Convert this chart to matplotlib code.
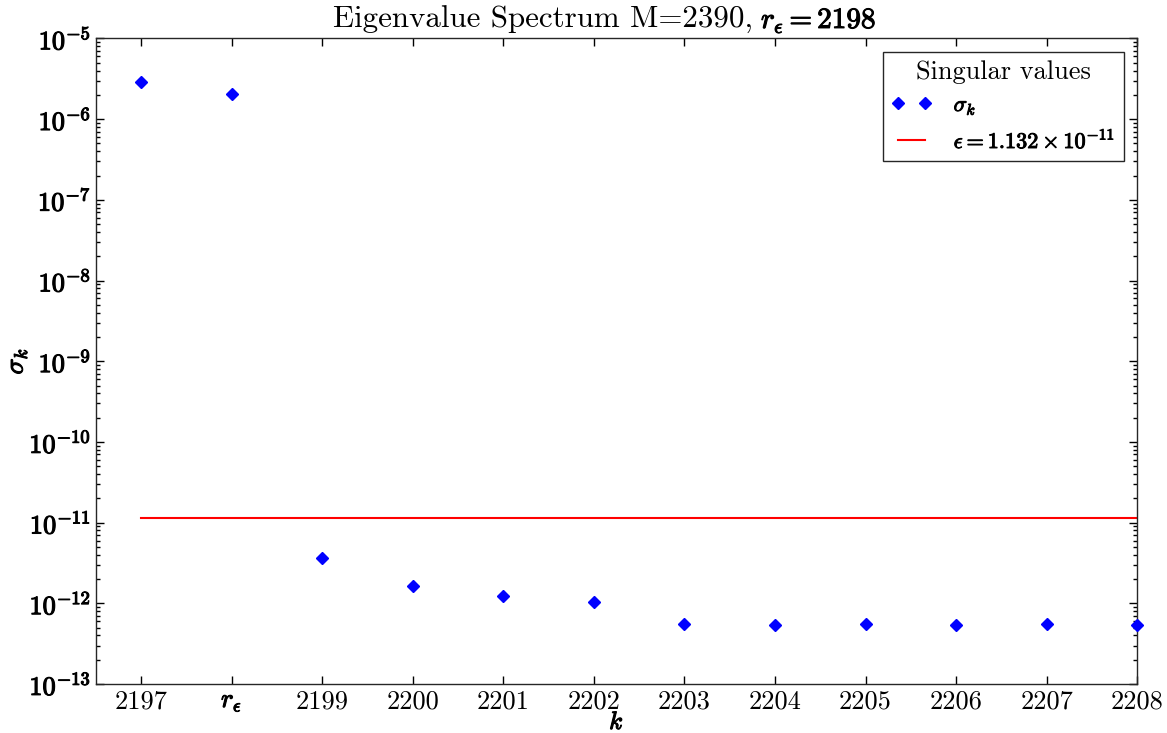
import matplotlib
matplotlib.use("Agg")
import matplotlib.pyplot as plt
import matplotlib.patheffects as pe
import numpy as np

k = [2197, 2198, 2199, 2200, 2201, 2202, 2203, 2204, 2205, 2206, 2207, 2208]
sigma = [2.86e-6, 2.06e-6, 3.65e-12, 1.66e-12, 1.23e-12, 1.05e-12,
         5.58e-13, 5.33e-13, 5.58e-13, 5.33e-13, 5.58e-13, 5.33e-13]
eps = 1.132e-11
xtick_labels = ['2197', r'$r_\epsilon$', '2199', '2200', '2201', '2202',
                '2203', '2204', '2205', '2206', '2207', '2208']
ytick_exps = list(range(-13, -4))

plt.rcParams['font.family'] = ['cmr10', 'DejaVu Serif']
plt.rcParams['mathtext.fontset'] = 'cm'
plt.rcParams['axes.formatter.use_mathtext'] = True


def bold(t, lw=0.7):
    t.set_path_effects([pe.withStroke(linewidth=lw, foreground=t.get_color())])
    return t


fig = plt.figure(figsize=(11.67, 7.33), dpi=100)
ax = fig.add_axes([0.082, 0.0668, 0.8925, 0.8807])

ax.semilogy(k, sigma, 'D', color='blue', markeredgecolor='blue', markersize=6,
            label=r'$\sigma_k$', clip_on=False, zorder=3)
ax.plot([k[0], k[-1]], [eps, eps], '-', color='red', lw=1.5,
        label=r'$\epsilon = 1.132 \times 10^{-11}$')

ax.set_xlim(2196.5, 2208)
ax.set_ylim(1e-13, 1e-5)
ax.set_xticks(k)
xl = ax.set_xticklabels(xtick_labels, fontsize=19)
bold(xl[1], 0.8)
ax.set_yticks([10.0**e for e in ytick_exps])
yl = ax.set_yticklabels([r'$10^{%d}$' % e for e in ytick_exps], fontsize=19)
for t in yl:
    bold(t, 0.8)

ax.tick_params(which='both', direction='in', top=True, right=True)
ax.tick_params(which='major', length=6, width=1)
ax.tick_params(which='minor', length=3, width=1)
ax.tick_params(axis='x', pad=4)
for s in ax.spines.values():
    s.set_linewidth(1.0)
    s.set_color('0.15')

# title: regular text + bold math part
fig.text(753 / 1167, 1 - 28 / 733, 'Eigenvalue Spectrum M=2390,', fontsize=22.3,
         ha='right', va='baseline')
bold(fig.text(761 / 1167, 1 - 28 / 733, r'$r_\epsilon = 2198$', fontsize=21,
              ha='left', va='baseline'), 0.8)

bold(ax.set_xlabel(r'$k$', fontsize=18, labelpad=-1), 0.8)
bold(ax.set_ylabel(r'$\sigma_k$', fontsize=19, labelpad=0), 0.8)

leg = ax.legend(loc='upper right', numpoints=2, title='Singular values', fontsize=16,
                title_fontsize=19, fancybox=False, edgecolor='0.15', framealpha=1,
                borderaxespad=0.6, handlelength=1.8, handletextpad=1.0)
leg.get_frame().set_linewidth(1.0)
for t in leg.get_texts():
    bold(t, 0.7)

fig.savefig('out.png', dpi=100)
